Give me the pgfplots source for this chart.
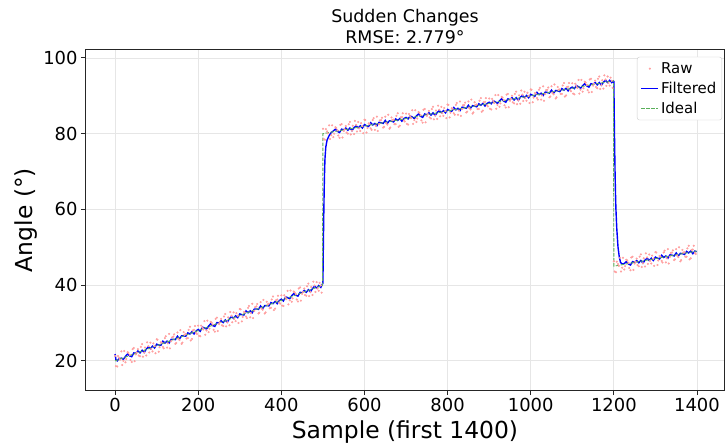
\documentclass[border=0pt]{standalone}
\usepackage{fontspec}
\setmainfont{DejaVu Sans}
\usepackage{pgfplots}
\pgfplotsset{compat=1.18}
\definecolor{rawc}{RGB}{255,160,160}
\definecolor{idealc}{RGB}{90,175,90}
\definecolor{gridc}{RGB}{230,230,230}
\begin{document}
\begin{tikzpicture}
\begin{axis}[
 at={(0,0)}, anchor=south west,
 scale only axis, width=638bp, height=340bp,
 xmin=-70, xmax=1465, ymin=12.3, ymax=102.1,
 xtick={0,200,...,1400}, ytick={20,40,...,100},
 grid=major, grid style={gridc, line width=0.8bp},
 axis line style={black!85, line width=1bp},
 tick align=outside, xtick pos=bottom, ytick pos=left,
 major tick length=5bp, tick style={black!85, line width=0.9bp},
 ticklabel style={font=\fontsize{18}{21}\selectfont},
 /pgf/number format/assume math mode=true,
 /pgf/number format/1000 sep={},
 xlabel={Sample (first 1400)}, ylabel={Angle (°)},
 label style={font=\fontsize{23.5}{27}\selectfont},
 xlabel style={at={(axis description cs:0.5,-0.1235)}, anchor=center},
 ylabel style={at={(axis description cs:-0.094,0.5)}, anchor=center},
 title={Sudden Changes\\RMSE: 2.779°},
 title style={font=\fontsize{17.5}{21}\selectfont, align=center, at={(axis description cs:0.5,1)}, anchor=center, yshift=17.5bp},
 legend style={at={(axis description cs:0.997,0.98)}, anchor=north east, font=\fontsize{15}{18}\selectfont, draw=black!20, rounded corners=2.5bp, fill=white, inner sep=3.5bp, row sep=3bp},
 legend cell align=left,
]
\addplot[only marks, mark=*, mark size=0.85bp, color=rawc, forget plot] coordinates {
(0,21.3)(5,18.5)(10,20.8)(15,22.5)(20,20.0)(25,19.6)(30,22.3)(35,21.6)(40,19.7)(45,23.4)(50,21.7)(55,23.1)(60,21.2)(65,24.4)(70,22.2)(75,21.4)(80,23.9)(85,24.8)(90,22.5)(95,23.9)(100,25.7)(105,22.4)(110,24.9)(115,23.7)(120,26.0)(125,23.5)(130,27.1)(135,25.2)(140,26.4)(145,24.5)(150,27.5)(155,25.5)(160,24.5)(165,27.6)(170,27.1)(175,26.0)(180,29.0)(185,25.8)(190,28.2)(195,27.4)
(200,29.3)(205,26.5)(210,28.8)(215,30.5)(220,28.0)(225,27.6)(230,30.3)(235,29.6)(240,27.7)(245,31.4)(250,29.7)(255,31.1)(260,29.2)(265,32.4)(270,30.2)(275,29.4)(280,31.9)(285,32.8)(290,30.5)(295,31.9)(300,33.7)(305,30.4)(310,32.9)(315,31.7)(320,34.0)(325,31.5)(330,35.1)(335,33.2)(340,34.4)(345,32.5)(350,35.5)(355,33.5)(360,32.5)(365,35.6)(370,35.1)(375,34.0)(380,37.0)(385,33.8)(390,36.2)(395,35.4)
(400,37.3)(405,34.5)(410,36.8)(415,38.5)(420,36.0)(425,35.6)(430,38.3)(435,37.6)(440,35.7)(445,39.4)(450,37.7)(455,39.1)(460,37.2)(465,40.4)(470,38.2)(475,37.4)(480,39.9)(485,40.8)(490,38.5)(495,39.9)
(500,81.3)(505,78.4)(510,80.6)(515,82.2)(520,79.6)(525,79.1)(530,81.7)(535,80.9)(540,78.9)(545,82.5)(550,80.7)(555,82.0)(560,80.0)(565,83.1)(570,80.8)(575,79.9)(580,82.3)(585,83.1)(590,80.7)(595,82.0)(600,83.7)(605,80.3)(610,82.7)(615,81.4)(620,83.6)(625,81.0)(630,84.5)(635,82.5)(640,83.6)(645,81.6)(650,84.5)(655,82.4)(660,81.3)(665,84.3)(670,83.7)(675,82.5)(680,85.4)(685,82.1)(690,84.4)(695,83.5)
(700,85.3)(705,82.4)(710,84.6)(715,86.2)(720,83.6)(725,83.1)(730,85.7)(735,84.9)(740,82.9)(745,86.5)(750,84.7)(755,86.0)(760,84.0)(765,87.1)(770,84.8)(775,83.9)(780,86.3)(785,87.1)(790,84.7)(795,86.0)(800,87.7)(805,84.3)(810,86.7)(815,85.4)(820,87.6)(825,85.0)(830,88.5)(835,86.5)(840,87.6)(845,85.6)(850,88.5)(855,86.4)(860,85.3)(865,88.3)(870,87.7)(875,86.5)(880,89.4)(885,86.1)(890,88.4)(895,87.5)
(900,89.3)(905,86.4)(910,88.6)(915,90.2)(920,87.6)(925,87.1)(930,89.7)(935,88.9)(940,86.9)(945,90.5)(950,88.7)(955,90.0)(960,88.0)(965,91.1)(970,88.8)(975,87.9)(980,90.3)(985,91.1)(990,88.7)(995,90.0)(1000,91.7)(1005,88.3)(1010,90.7)(1015,89.4)(1020,91.6)(1025,89.0)(1030,92.5)(1035,90.5)(1040,91.6)(1045,89.6)(1050,92.5)(1055,90.4)(1060,89.3)(1065,92.3)(1070,91.7)(1075,90.5)(1080,93.4)(1085,90.1)(1090,92.4)(1095,91.5)
(1100,93.3)(1105,90.4)(1110,92.6)(1115,94.2)(1120,91.6)(1125,91.1)(1130,93.7)(1135,92.9)(1140,90.9)(1145,94.5)(1150,92.7)(1155,94.0)(1160,92.0)(1165,95.1)(1170,92.8)(1175,91.9)(1180,94.3)(1185,95.1)(1190,92.7)(1195,94.0)
(1200,46.3)(1205,43.4)(1210,45.6)(1215,47.2)(1220,44.6)(1225,44.1)(1230,46.7)(1235,45.9)(1240,43.9)(1245,47.5)(1250,45.7)(1255,47.0)(1260,45.0)(1265,48.1)(1270,45.8)(1275,44.9)(1280,47.3)(1285,48.1)(1290,45.7)(1295,47.0)(1300,48.7)(1305,45.3)(1310,47.7)(1315,46.4)(1320,48.6)(1325,46.0)(1330,49.5)(1335,47.5)(1340,48.6)(1345,46.6)(1350,49.5)(1355,47.4)(1360,46.3)(1365,49.3)(1370,48.7)(1375,47.5)(1380,50.4)(1385,47.1)(1390,49.4)(1395,48.5)
};
\addplot[only marks, mark=*, mark size=0.85bp, color=rawc] coordinates {
(2,18.6)(7,21.3)(12,20.3)(17,18.9)(22,22.6)(27,20.5)(32,22.1)(37,20.2)(42,23.1)(47,19.9)(52,22.2)(57,21.4)(62,23.7)(67,21.1)(72,23.5)(77,24.9)(82,22.2)(87,23.1)(92,24.6)(97,22.0)(102,25.6)(107,23.6)(112,24.8)(117,23.3)(122,26.5)(127,24.6)(132,23.3)(137,26.2)(142,27.0)(147,24.7)(152,25.8)(157,28.1)(162,24.8)(167,26.9)(172,25.9)(177,28.2)(182,25.4)(187,28.0)(192,29.2)(197,27.1)
(202,26.6)(207,29.3)(212,28.3)(217,26.9)(222,30.6)(227,28.5)(232,30.1)(237,28.2)(242,31.1)(247,27.9)(252,30.2)(257,29.4)(262,31.7)(267,29.1)(272,31.5)(277,32.9)(282,30.2)(287,31.1)(292,32.6)(297,30.0)(302,33.6)(307,31.6)(312,32.8)(317,31.3)(322,34.5)(327,32.6)(332,31.3)(337,34.2)(342,35.0)(347,32.7)(352,33.8)(357,36.1)(362,32.8)(367,34.9)(372,33.9)(377,36.2)(382,33.4)(387,36.0)(392,37.2)(397,35.1)
(402,34.6)(407,37.3)(412,36.3)(417,34.9)(422,38.6)(427,36.5)(432,38.1)(437,36.2)(442,39.1)(447,35.9)(452,38.2)(457,37.4)(462,39.7)(467,37.1)(472,39.5)(477,40.9)(482,38.2)(487,39.1)(492,40.6)(497,38.0)
(502,78.6)(507,81.2)(512,80.1)(517,78.6)(522,82.2)(527,80.0)(532,81.5)(537,79.5)(542,82.3)(547,79.0)(552,81.2)(557,80.3)(562,82.5)(567,79.8)(572,82.1)(577,83.4)(582,80.6)(587,81.4)(592,82.8)(597,80.1)(602,83.6)(607,81.5)(612,82.6)(617,81.0)(622,84.1)(627,82.1)(632,80.7)(637,83.5)(642,84.2)(647,81.8)(652,82.8)(657,85.0)(662,81.6)(667,83.6)(672,82.5)(677,84.7)(682,81.8)(687,84.3)(692,85.4)(697,83.2)
(702,82.6)(707,85.2)(712,84.1)(717,82.6)(722,86.2)(727,84.0)(732,85.5)(737,83.5)(742,86.3)(747,83.0)(752,85.2)(757,84.3)(762,86.5)(767,83.8)(772,86.1)(777,87.4)(782,84.6)(787,85.4)(792,86.8)(797,84.1)(802,87.6)(807,85.5)(812,86.6)(817,85.0)(822,88.1)(827,86.1)(832,84.7)(837,87.5)(842,88.2)(847,85.8)(852,86.8)(857,89.0)(862,85.6)(867,87.6)(872,86.5)(877,88.7)(882,85.8)(887,88.3)(892,89.4)(897,87.2)
(902,86.6)(907,89.2)(912,88.1)(917,86.6)(922,90.2)(927,88.0)(932,89.5)(937,87.5)(942,90.3)(947,87.0)(952,89.2)(957,88.3)(962,90.5)(967,87.8)(972,90.1)(977,91.4)(982,88.6)(987,89.4)(992,90.8)(997,88.1)(1002,91.6)(1007,89.5)(1012,90.6)(1017,89.0)(1022,92.1)(1027,90.1)(1032,88.7)(1037,91.5)(1042,92.2)(1047,89.8)(1052,90.8)(1057,93.0)(1062,89.6)(1067,91.6)(1072,90.5)(1077,92.7)(1082,89.8)(1087,92.3)(1092,93.4)(1097,91.2)
(1102,90.6)(1107,93.2)(1112,92.1)(1117,90.6)(1122,94.2)(1127,92.0)(1132,93.5)(1137,91.5)(1142,94.3)(1147,91.0)(1152,93.2)(1157,92.3)(1162,94.5)(1167,91.8)(1172,94.1)(1177,95.4)(1182,92.6)(1187,93.4)(1192,94.8)(1197,92.1)
(1202,43.6)(1207,46.2)(1212,45.1)(1217,43.6)(1222,47.2)(1227,45.0)(1232,46.5)(1237,44.5)(1242,47.3)(1247,44.0)(1252,46.2)(1257,45.3)(1262,47.5)(1267,44.8)(1272,47.1)(1277,48.4)(1282,45.6)(1287,46.4)(1292,47.8)(1297,45.1)(1302,48.6)(1307,46.5)(1312,47.6)(1317,46.0)(1322,49.1)(1327,47.1)(1332,45.7)(1337,48.5)(1342,49.2)(1347,46.8)(1352,47.8)(1357,50.0)(1362,46.6)(1367,48.6)(1372,47.5)(1377,49.7)(1382,46.8)(1387,49.3)(1392,50.4)(1397,48.2)
};
\addlegendentry{Raw}
\addplot[blue, line width=1.4bp] coordinates {
(0,21.8)(2,20.3)(5,20.0)(10,20.6)(15,20.7)(20,20.4)(25,21.2)(30,21.8)(35,21.3)(40,21.1)(45,22.1)(50,22.0)(55,22.6)(60,22.1)(65,22.8)(70,22.2)(75,23.1)(80,23.7)(85,23.2)(90,23.9)(95,23.4)(100,24.4)(105,24.2)(110,24.1)(115,25.2)(120,24.7)(125,25.2)(130,24.7)(135,25.7)(140,25.7)(145,25.6)(150,26.5)(155,25.8)(160,26.6)(165,26.6)(170,26.5)(175,27.4)(180,27.1)(185,27.7)(190,27.1)(195,27.9)
(200,28.3)(205,27.8)(210,28.9)(215,28.7)(220,28.4)(225,29.2)(230,29.8)(235,29.3)(240,29.1)(245,30.1)(250,30.0)(255,30.6)(260,30.1)(265,30.8)(270,30.2)(275,31.1)(280,31.7)(285,31.2)(290,31.9)(295,31.4)(300,32.4)(305,32.2)(310,32.1)(315,33.2)(320,32.7)(325,33.2)(330,32.7)(335,33.7)(340,33.7)(345,33.6)(350,34.5)(355,33.8)(360,34.6)(365,34.6)(370,34.5)(375,35.4)(380,35.1)(385,35.7)(390,35.1)(395,35.9)
(400,36.3)(405,35.8)(410,36.9)(415,36.7)(420,36.4)(425,37.2)(430,37.8)(435,37.3)(440,37.1)(445,38.1)(450,38.0)(455,38.6)(460,38.1)(465,38.8)(470,38.2)(475,39.1)(480,39.7)(485,39.2)(490,39.9)(495,39.4)(499,40.3)
(500,40.5)(501,50.0)(502,58.0)(503,65.0)(504,70.0)(505,73.5)(507,76.5)(510,78.3)(515,79.5)(520,80.3)
(525,80.7)(530,81.2)(535,80.6)(540,80.3)(545,81.2)(550,81.0)(555,81.5)(560,80.9)(565,81.5)(570,80.8)(575,81.6)(580,82.1)(585,81.5)(590,82.1)(595,81.5)(600,82.4)(605,82.1)(610,81.9)(615,82.9)(620,82.3)(625,82.7)(630,82.1)(635,83.0)(640,82.9)(645,82.7)(650,83.5)(655,82.7)(660,83.4)(665,83.3)(670,83.1)(675,83.9)(680,83.5)(685,84.0)(690,83.3)(695,84.0)
(700,84.3)(705,83.9)(710,84.7)(715,84.4)(720,84.0)(725,84.7)(730,85.2)(735,84.6)(740,84.3)(745,85.2)(750,85.0)(755,85.5)(760,84.9)(765,85.5)(770,84.8)(775,85.6)(780,86.1)(785,85.5)(790,86.1)(795,85.5)(800,86.4)(805,86.1)(810,85.9)(815,86.9)(820,86.3)(825,86.7)(830,86.1)(835,87.0)(840,86.9)(845,86.7)(850,87.5)(855,86.7)(860,87.4)(865,87.3)(870,87.1)(875,87.9)(880,87.5)(885,88.0)(890,87.3)(895,88.0)
(900,88.3)(905,87.9)(910,88.7)(915,88.4)(920,88.0)(925,88.7)(930,89.2)(935,88.6)(940,88.3)(945,89.2)(950,89.0)(955,89.5)(960,88.9)(965,89.5)(970,88.8)(975,89.6)(980,90.1)(985,89.5)(990,90.1)(995,89.5)(1000,90.4)(1005,90.1)(1010,89.9)(1015,90.9)(1020,90.3)(1025,90.7)(1030,90.1)(1035,91.0)(1040,90.9)(1045,90.7)(1050,91.5)(1055,90.7)(1060,91.4)(1065,91.3)(1070,91.1)(1075,91.9)(1080,91.5)(1085,92.0)(1090,91.3)(1095,92.0)
(1100,92.3)(1105,91.9)(1110,92.7)(1115,92.4)(1120,92.0)(1125,92.7)(1130,93.2)(1135,92.6)(1140,92.3)(1145,93.2)(1150,93.0)(1155,93.5)(1160,92.9)(1165,93.5)(1170,92.8)(1175,93.6)(1180,94.1)(1185,93.5)(1190,94.1)(1195,93.5)(1199,93.9)
(1200,93.8)(1201,84.0)(1202,76.0)(1203,69.0)(1204,64.0)(1205,60.0)(1207,55.0)(1210,50.0)(1213,47.5)(1216,46.0)(1220,45.6)
(1225,45.7)(1230,46.2)(1235,45.6)(1240,45.3)(1245,46.2)(1250,46.0)(1255,46.5)(1260,45.9)(1265,46.5)(1270,45.8)(1275,46.6)(1280,47.1)(1285,46.5)(1290,47.1)(1295,46.5)(1300,47.4)(1305,47.1)(1310,46.9)(1315,47.9)(1320,47.3)(1325,47.7)(1330,47.1)(1335,48.0)(1340,47.9)(1345,47.7)(1350,48.5)(1355,47.7)(1360,48.4)(1365,48.3)(1370,48.1)(1375,48.9)(1380,48.5)(1385,49.0)(1390,48.3)(1395,49.0)(1399,48.8)
};
\addlegendentry{Filtered}
\addplot[idealc, line width=0.9bp, dash pattern=on 3.5bp off 1.5bp] coordinates {
(0,20)(499,39.96)(500,80)(1199,93.98)(1200,45)(1399,48.98)
};
\addlegendentry{Ideal}
\end{axis}
\pgfresetboundingbox
\path[use as bounding box] (-86bp,-57bp) rectangle (639bp,390bp);
\end{tikzpicture}
\end{document}
